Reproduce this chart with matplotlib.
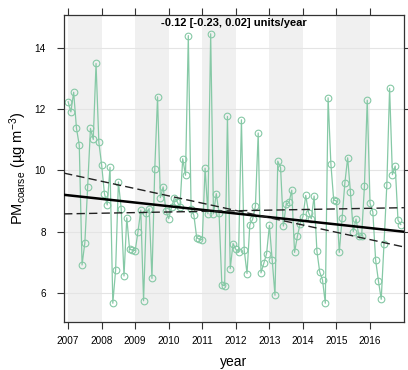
import numpy as np
import matplotlib
matplotlib.use("Agg")
import matplotlib.pyplot as plt

# monthly PM coarse, Jan 2007 .. Dec 2016
pm_2007 = [12.24, 11.91, 12.55, 11.37, 10.82, 6.91, 7.64, 9.46, 11.37, 11.01, 13.49, 10.92]
pm_2008 = [10.18, 9.24, 8.87, 10.10, 5.66, 6.74, 9.62, 8.75, 6.55, 8.45, 7.42, 7.40]
pm_2009 = [7.38, 7.99, 8.70, 5.74, 8.60, 8.75, 6.47, 10.03, 12.40, 9.11, 9.46, 8.68]
pm_2010 = [8.42, 8.79, 9.10, 8.98, 8.79, 10.38, 9.84, 14.40, 8.75, 8.53, 7.80, 7.75]
pm_2011 = [7.73, 10.07, 8.58, 14.46, 8.58, 9.24, 8.60, 6.26, 6.23, 11.76, 6.79, 7.61]
pm_2012 = [7.42, 7.33, 11.65, 7.39, 6.63, 8.22, 8.40, 8.83, 11.22, 6.65, 6.96, 7.28]
pm_2013 = [8.20, 7.08, 5.92, 10.30, 10.09, 8.18, 8.89, 8.95, 9.35, 7.32, 7.84, 8.26]
pm_2014 = [8.49, 9.18, 8.62, 8.42, 9.16, 7.36, 6.68, 6.42, 5.66, 12.37, 10.20, 9.03]
pm_2015 = [9.00, 7.32, 8.43, 9.59, 10.41, 9.28, 8.00, 8.41, 7.86, 7.86, 9.49, 12.29]
pm_2016 = [8.93, 8.64, 7.07, 6.39, 5.79, 7.61, 9.51, 12.68, 9.86, 10.14, 8.37, 8.23]
years = list(range(2007, 2017))

# Theil-Sen trend (units/year) and its 95% interval, intercepts at start of 2007
trend_slopes = [-0.119, -0.238, 0.02]
trend_intercepts = [9.186, 9.88, 8.58]
trend_styles = ["-", "--", "--"]
trend_label = "-0.12 [-0.23, 0.02] units/year"

plt.rcParams['font.family'] = ['Liberation Sans', 'DejaVu Sans']
plt.rcParams['mathtext.default'] = 'regular'

pm = np.concatenate([pm_2007, pm_2008, pm_2009, pm_2010, pm_2011,
                     pm_2012, pm_2013, pm_2014, pm_2015, pm_2016])
t = years[0] + np.arange(len(pm)) / 12.0

fig = plt.figure(figsize=(4.08, 3.70), dpi=100)
ax = fig.add_axes([0.157, 0.13, 0.833, 0.83])
xlim = (2006.88, 2017.01)
ylim = (5.05, 15.08)

# alternate year shading
for y in years[::2]:
    ax.axvspan(y, y + 1, color='#f0f0f0', lw=0, zorder=0)
for v in [6, 8, 10, 12, 14]:
    ax.axhline(v, color='#e4e4e4', lw=0.8, zorder=0.5)

ax.plot(t, pm, color='#86c9a6', lw=0.9, marker='o', ms=4.8, mfc='none',
        mec='#86c9a6', mew=0.8, zorder=2)

xx = np.array(xlim)
for s, b, ls in zip(trend_slopes, trend_intercepts, trend_styles):
    if ls == "-":
        ax.plot(xx, b + s * (xx - years[0]), color='black', lw=1.8, zorder=3)
    else:
        ax.plot(xx, b + s * (xx - years[0]), color='#222222', lw=1.0,
                ls=(0, (6, 3)), zorder=3)

ax.text(0.5, 0.988, trend_label, transform=ax.transAxes, ha='center', va='top',
        fontsize=8, fontweight='bold')

ax.set_xlim(*xlim)
ax.set_ylim(*ylim)
ax.set_xticks(years)
ax.set_xticklabels([str(y) for y in years])
ax.set_yticks([6, 8, 10, 12, 14])
ax.tick_params(axis='both', direction='out', length=5, width=0.8, labelsize=7.2,
               top=True, right=True, colors='#333333', labelcolor='black')
ax.tick_params(axis='x', pad=5.5)
ax.tick_params(axis='y', pad=8)
for sp in ax.spines.values():
    sp.set_color('#333333')
    sp.set_linewidth(0.9)

ax.set_xlabel('year', fontsize=10, labelpad=6)
ax.set_ylabel(r'PM$_{coarse}$ (µg m$^{-3}$)', fontsize=10.5, labelpad=4)

plt.savefig('out.png', dpi=100)
plt.close()
